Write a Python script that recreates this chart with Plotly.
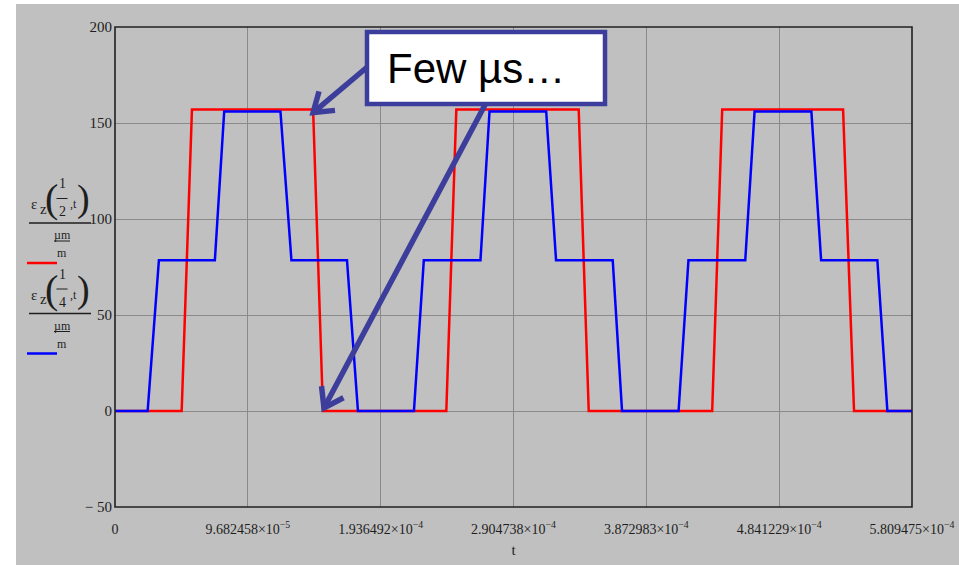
import math
import plotly.graph_objects as go

# Strain pulses at two positions along the bar (time in µs, strain in µm/m)
red_t_us = [0, 48.6, 56.1, 144.4, 151.6, 241.5, 248.8, 338.0, 345.3,
            435.3, 442.6, 530.7, 538.7, 580.9475]
red_eps = [0, 0, 157, 157, 0, 0, 157, 157, 0, 0, 157, 157, 0, 0]

blue_t_us = [0, 23.8, 32.0, 72.8, 79.6, 120.6, 128.6, 169.1, 177.1,
             217.9, 225.1, 266.4, 273.0, 314.3, 321.5, 362.8, 369.6,
             410.8, 418.0, 459.4, 466.2, 507.6, 514.7, 555.7, 563.0, 580.9475]
blue_eps = [0, 0, 78.5, 78.5, 156, 156, 78.5, 78.5, 0,
            0, 78.5, 78.5, 156, 156, 78.5, 78.5, 0,
            0, 78.5, 78.5, 156, 156, 78.5, 78.5, 0, 0]

x_tick_vals = [0, 9.682458e-5, 1.936492e-4, 2.904738e-4, 3.872983e-4, 4.841229e-4, 5.809475e-4]
x_tick_text = ["0",
               "9.682458×10<sup>−5</sup>",
               "1.936492×10<sup>−4</sup>",
               "2.904738×10<sup>−4</sup>",
               "3.872983×10<sup>−4</sup>",
               "4.841229×10<sup>−4</sup>",
               "5.809475×10<sup>−4</sup>"]
y_tick_vals = [-50, 0, 50, 100, 150, 200]
y_tick_text = ["− 50", "0", "50", "100", "150", "200"]

X_MAX = 5.809475e-4
Y_MIN, Y_MAX = -50, 200

W, H = 959, 565
L, R, T, B = 115, 912, 27, 507

GRAY = "#c0c0c0"
ARROW = "#3d3d9c"
INK = "#1e1e1e"
SERIF = "Liberation Serif, Times New Roman, serif"


def px(xp):
    return (xp - L) / (R - L)


def py(yp):
    return (B - yp) / (B - T)


def data_to_px(t, v):
    return L + t / X_MAX * (R - L), B - (v - Y_MIN) / (Y_MAX - Y_MIN) * (B - T)


red_t = [v * 1e-6 for v in red_t_us]
blue_t = [v * 1e-6 for v in blue_t_us]

fig = go.Figure()
fig.add_trace(go.Scatter(x=red_t, y=red_eps, mode="lines",
                         line=dict(color="#ff0000", width=2.5), showlegend=False))
fig.add_trace(go.Scatter(x=blue_t, y=blue_eps, mode="lines",
                         line=dict(color="#0000ff", width=2.5), showlegend=False))

shapes = []
annotations = []

# white strips at the left and top edges of the page
shapes.append(dict(type="rect", xref="paper", yref="paper", x0=px(-5), x1=px(16),
                   y0=py(H + 5), y1=py(-5), fillcolor="white", line=dict(width=0), layer="below"))
shapes.append(dict(type="rect", xref="paper", yref="paper", x0=px(-5), x1=px(W + 5),
                   y0=py(4), y1=py(-5), fillcolor="white", line=dict(width=0), layer="below"))

# frame around the plot area
shapes.append(dict(type="rect", xref="paper", yref="paper", x0=0, x1=1, y0=0, y1=1,
                   line=dict(color="#202020", width=1.6), fillcolor="rgba(0,0,0,0)"))


def arrow(tail, tip, width=5.5, head=22, spread=0.6):
    tx, ty = tail
    hx, hy = tip
    dx, dy = hx - tx, hy - ty
    n = math.hypot(dx, dy)
    ux, uy = dx / n, dy / n
    shapes.append(dict(type="line", xref="paper", yref="paper",
                       x0=px(tx), y0=py(ty), x1=px(hx - ux * 2), y1=py(hy - uy * 2),
                       line=dict(color=ARROW, width=width)))
    c, s = math.cos(spread), math.sin(spread)
    a1 = (hx - head * (ux * c - uy * s), hy - head * (uy * c + ux * s))
    a2 = (hx - head * (ux * c + uy * s), hy - head * (uy * c - ux * s))
    path = "M {:.5f},{:.5f} L {:.5f},{:.5f} L {:.5f},{:.5f}".format(
        px(a1[0]), py(a1[1]), px(hx), py(hy), px(a2[0]), py(a2[1]))
    shapes.append(dict(type="path", xref="paper", yref="paper", path=path,
                       line=dict(color=ARROW, width=width)))


# arrows pointing to the start and end of the first falling edge
tip1 = data_to_px(red_t[3], red_eps[3])
tip2 = data_to_px(red_t[4], red_eps[4])
arrow((378, 58), (tip1[0], tip1[1] + 3))
arrow((494, 88), (tip2[0] + 1, tip2[1] - 3))

# callout box
shapes.append(dict(type="rect", xref="paper", yref="paper",
                   x0=px(367), x1=px(605), y0=py(104), y1=py(32),
                   fillcolor="white", line=dict(color=ARROW, width=4.5)))
annotations.append(dict(xref="paper", yref="paper", x=px(476), y=py(68),
                        text="Few µs…", showarrow=False, xanchor="center", yanchor="middle",
                        font=dict(family="Liberation Sans, Arial, sans-serif", size=42, color="black")))


def txt(x, y, s, size=13, family=SERIF):
    annotations.append(dict(xref="paper", yref="paper", x=px(x), y=py(y), text=s,
                            showarrow=False, xanchor="center", yanchor="middle",
                            font=dict(family=family, size=size, color=INK)))


def hline(x0, x1, y, color=INK, width=1.3):
    shapes.append(dict(type="line", xref="paper", yref="paper", x0=px(x0), x1=px(x1),
                       y0=py(y), y1=py(y), line=dict(color=color, width=width)))


# stacked y-axis labels: eps_z(1/2, t)/(µm/m) and eps_z(1/4, t)/(µm/m)
for dy, den, color in [(0, "2", "#ff0000"), (90.5, "4", "#0000ff")]:
    txt(34, 204 + dy, "ε", 15)
    txt(43.5, 209 + dy, "z", 15)
    txt(51, 199 + dy, "(", 40)
    txt(62, 184 + dy, "1", 14)
    hline(56.5, 67.5, 198.5 + dy, width=1)
    txt(62, 212 + dy, den, 14)
    txt(73.5, 204 + dy, ",t", 12)
    txt(83.5, 199 + dy, ")", 38)
    hline(29, 91, 223 + dy, width=1.3)
    txt(62, 235 + dy, "µm", 12)
    hline(54, 70, 241 + dy, width=1)
    txt(62, 253 + dy, "m", 12)
    hline(27, 57, 263 + dy, color=color, width=2.5)

fig.update_layout(
    width=W, height=H,
    margin=dict(l=L, r=W - R, t=T, b=H - B, pad=0, autoexpand=False),
    paper_bgcolor=GRAY, plot_bgcolor=GRAY,
    shapes=shapes, annotations=annotations,
    showlegend=False,
    xaxis=dict(range=[0, X_MAX], tickvals=x_tick_vals, ticktext=x_tick_text,
               showgrid=True, gridcolor="#8a8a8a", gridwidth=1, zeroline=False,
               ticks="", ticklabelstandoff=12, automargin=False,
               tickfont=dict(family=SERIF, size=14, color=INK),
               title=dict(text="t", font=dict(family=SERIF, size=15, color=INK), standoff=8)),
    yaxis=dict(range=[Y_MIN, Y_MAX], tickvals=y_tick_vals, ticktext=y_tick_text,
               showgrid=True, gridcolor="#8a8a8a", gridwidth=1, zeroline=False,
               ticks="", ticklabelstandoff=2, automargin=False,
               tickfont=dict(family=SERIF, size=15, color=INK)),
)

fig.write_html("out.html")
